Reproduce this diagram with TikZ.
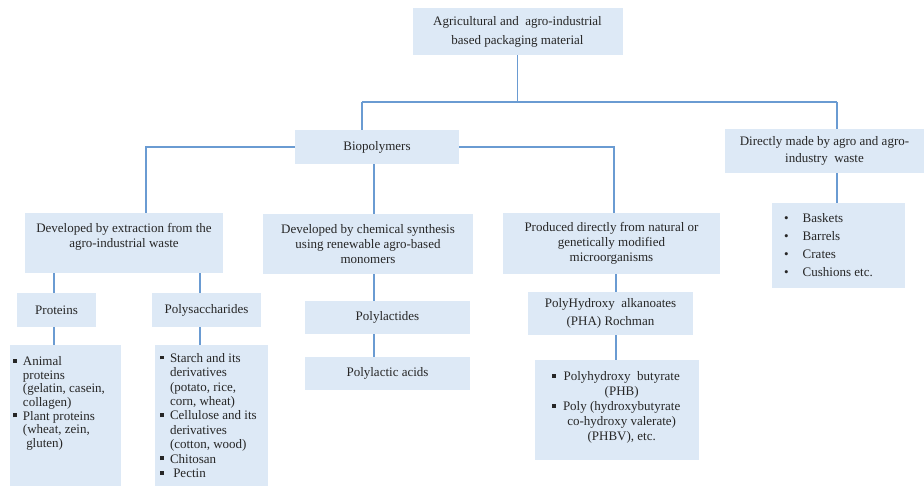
\documentclass[tikz,border=0pt]{standalone}
\usepackage{fontspec}
\setmainfont{Liberation Serif}
\definecolor{boxfill}{HTML}{DDE9F6}
\definecolor{linec}{HTML}{6A9BD2}
\definecolor{txt}{HTML}{262626}
\newcommand{\sqb}{\rule[0.22em]{3.8pt}{3.8pt}}
\begin{document}
\begin{tikzpicture}[x=1pt,y=-1pt,
  box/.style={fill=boxfill, inner sep=0pt, align=center, text=txt},
  listtext/.style={inner sep=0pt, anchor=north west, text=txt},
  conn/.style={draw=linec, line width=1.9pt}]
\useasboundingbox (0,0) rectangle (924,485);
% boxes
\node[box, minimum width=210pt, minimum height=47pt, font=\fontsize{13}{19}\selectfont] (top) at (517.5,31.5) {Agricultural and\ \ agro-industrial\\based packaging material};
\node[box, minimum width=164pt, minimum height=34pt, font=\fontsize{13}{15}\selectfont] (bio) at (377,147) {Biopolymers};
\node[box, minimum width=199pt, minimum height=44pt, font=\fontsize{13}{17}\selectfont] (direct) at (824.5,151) {Directly made by agro and agro-\\industry\ \ waste};
\node[box, minimum width=198pt, minimum height=60pt, font=\fontsize{13}{15}\selectfont] (ext) at (124,243) {Developed by extraction from the\\agro-industrial waste\\\mbox{}};
\node[box, minimum width=210pt, minimum height=60pt, font=\fontsize{13}{15}\selectfont] (mid) at (368,244) {Developed by chemical synthesis\\using renewable agro-based\\monomers};
\node[box, minimum width=217pt, minimum height=61pt, font=\fontsize{13}{15}\selectfont] (prod) at (611.5,243.5) {Produced directly from natural or\\genetically modified\\microorganisms};
\node[box, minimum width=79pt, minimum height=34pt, font=\fontsize{13}{15}\selectfont] (prot) at (56.5,310) {Proteins};
\node[box, minimum width=109pt, minimum height=34pt, font=\fontsize{13}{15}\selectfont] (polys) at (206.5,310) {Polysaccharides};
\node[box, minimum width=165pt, minimum height=33pt, font=\fontsize{13}{15}\selectfont] (plac) at (387.5,317.5) {Polylactides};
\node[box, minimum width=165pt, minimum height=33pt, font=\fontsize{13}{15}\selectfont] (pacid) at (387.5,373.5) {Polylactic acids};
\node[box, minimum width=165pt, minimum height=43pt, font=\fontsize{13}{18}\selectfont] (pha) at (610.5,313.5) {PolyHydroxy\ \ alkanoates\\(PHA) Rochman};
\node[box, minimum width=111pt, minimum height=145pt] (plist) at (65.5,417.5) {};
\node[box, minimum width=113pt, minimum height=145pt] (slist) at (211.5,417.5) {};
\node[box, minimum width=164pt, minimum height=100pt] (phb) at (617,410) {};
\node[box, minimum width=133pt, minimum height=85pt] (bask) at (838.5,245.5) {};
% list texts
\node[listtext, font=\fontsize{13}{13.6}\selectfont] (plistT) at (13,356) {\begin{tabular}{@{}l@{\hspace{6pt}}l@{}}
\sqb & Animal\\ & proteins\\ & (gelatin, casein,\\ & collagen)\\ \sqb & Plant proteins\\ & (wheat, zein,\\ & \ gluten)\end{tabular}};
\node[listtext, font=\fontsize{13}{14.4}\selectfont] (slistT) at (160,352) {\begin{tabular}{@{}l@{\hspace{6pt}}l@{}}
\sqb & Starch and its\\ & derivatives\\ & (potato, rice,\\ & corn, wheat)\\ \sqb & Cellulose and its\\ & derivatives\\ & (cotton, wood)\\ \sqb & Chitosan\\ \sqb & \ Pectin\end{tabular}};
\node[listtext, font=\fontsize{13}{15}\selectfont] (phbT) at (552,370) {\begin{tabular}{@{}l@{\hspace{7pt}}c@{}}
\sqb & Polyhydroxy\ \ butyrate\\ & (PHB)\\ \sqb & Poly (hydroxybutyrate\\ & co-hydroxy valerate)\\ & (PHBV), etc.\end{tabular}};
\node[listtext, font=\fontsize{13}{18}\selectfont] (baskT) at (784,210) {\begin{tabular}{@{}l@{\hspace{14pt}}l@{}}
\textbullet & Baskets\\ \textbullet & Barrels\\ \textbullet & Crates\\ \textbullet & Cushions etc.\end{tabular}};
% helper x positions
\coordinate (xbio) at (362,0);
\coordinate (xdir) at (837,0);
\coordinate (xext) at (146,0);
\coordinate (xprod) at (614,0);
\coordinate (xmid) at (374,0);
\coordinate (xprot) at (54,0);
\coordinate (xpoly) at (200,0);
\coordinate (xpha) at (616,0);
\coordinate (hy) at (0,102);
% connectors
\draw[conn] (top.south) -- (top.south |- hy);
\draw[conn] (xbio |- hy) -- (xdir |- hy);
\draw[conn] (xbio |- hy) -- (xbio |- bio.north);
\draw[conn] (xdir |- hy) -- (xdir |- direct.north);
\draw[conn] (bio.west) -- (xext |- bio.west) -- (xext |- ext.north);
\draw[conn] (bio.east) -- (xprod |- bio.east) -- (xprod |- prod.north);
\draw[conn] (xmid |- bio.south) -- (xmid |- mid.north);
\draw[conn] (xprot |- ext.south) -- (xprot |- prot.north);
\draw[conn] (xpoly |- ext.south) -- (xpoly |- polys.north);
\draw[conn] (xprot |- prot.south) -- (xprot |- plist.north);
\draw[conn] (xpoly |- polys.south) -- (xpoly |- slist.north);
\draw[conn] (xmid |- mid.south) -- (xmid |- plac.north);
\draw[conn] (xmid |- plac.south) -- (xmid |- pacid.north);
\draw[conn] (xpha |- prod.south) -- (xpha |- pha.north);
\draw[conn] (xpha |- pha.south) -- (xpha |- phb.north);
\draw[conn] (xdir |- direct.south) -- (xdir |- bask.north);
\end{tikzpicture}
\end{document}
